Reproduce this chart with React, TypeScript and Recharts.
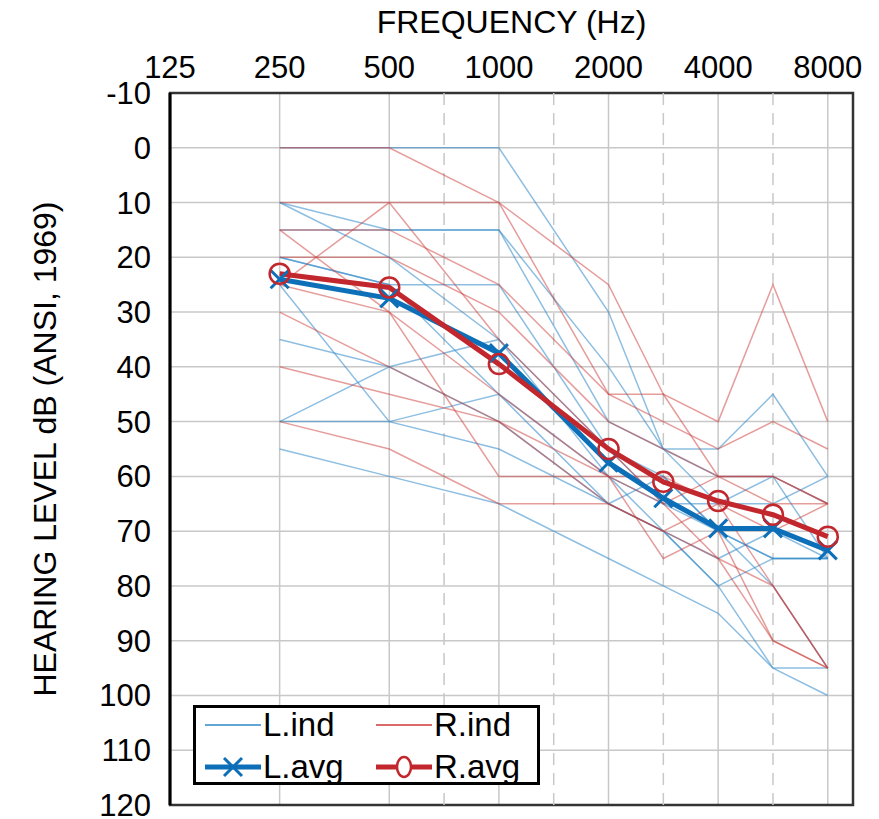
import {
  LineChart,
  Line,
  XAxis,
  YAxis,
  CartesianGrid,
  ReferenceLine,
  ReferenceArea,
  Legend,
  Label,
} from "recharts";

const FONT = '"Liberation Sans", Arial, sans-serif';

// frequencies measured for every ear
const freqs = [250, 500, 1000, 2000, 3000, 4000, 6000, 8000];
// labelled octave ticks along the top
const axisFreqs = [125, 250, 500, 1000, 2000, 4000, 8000];
// dashed half-octave guides
const halfOctaves = [750, 1500, 3000, 6000];
const dbTicks = [-10, 0, 10, 20, 30, 40, 50, 60, 70, 80, 90, 100, 110, 120];

// individual left ears (dB HL at each freq)
const leftInd = [
  [0, 0, 0, 30, 55, 60, 60, 65],
  [10, 15, 15, 40, 55, 55, 45, 60],
  [10, 20, 35, 55, 60, 70, 75, 75],
  [15, 15, 15, 50, 55, 65, 65, 60],
  [20, 25, 25, 55, 65, 70, 80, 95],
  [25, 50, 55, 65, 70, 80, 75, 75],
  [35, 40, 35, 60, 70, 75, 70, 75],
  [50, 50, 45, 60, 65, 65, 60, 75],
  [50, 40, 50, 65, 60, 70, 75, 75],
  [55, 60, 65, 75, 80, 85, 95, 100],
  [20, 25, 45, 65, 70, 80, 95, 95],
];

// individual right ears
const rightInd = [
  [0, 0, 10, 25, 45, 50, 25, 50],
  [10, 10, 10, 45, 50, 55, 50, 55],
  [15, 15, 25, 45, 45, 60, 60, 65],
  [20, 20, 30, 50, 55, 60, 65, 65],
  [25, 10, 35, 55, 65, 75, 90, 95],
  [25, 30, 45, 60, 60, 65, 80, 95],
  [30, 40, 50, 60, 75, 70, 90, 95],
  [40, 45, 50, 65, 70, 65, 70, 65],
  [50, 55, 65, 65, 70, 75, 80, 95],
  [15, 30, 60, 60, 65, 60, 60, 65],
];

const leftAvg = [24, 27.5, 37.5, 57.5, 64, 69.5, 69.5, 73.5];
const rightAvg = [23, 25.5, 39.5, 55, 61, 64.5, 67, 71];

const L_IND = "#2F88C8";
const R_IND = "#CC3B38";
const L_AVG = "#0C6FB8";
const R_AVG = "#C2272D";

// octaves sit on whole steps, the 1.5x freqs half way between
const pos = (f: number) => {
  const p = Math.log2(f / 125);
  return Math.abs(p - Math.round(p)) < 1e-6 ? Math.round(p) : Math.floor(p) + 0.5;
};

const toPoints = (vals: number[]) => freqs.map((f, i) => ({ x: pos(f), y: vals[i] }));

const Cross = (props: any) => {
  const { cx, cy, index } = props;
  if (cx == null || cy == null) return <g key={`c${index}`} />;
  const s = 9;
  return (
    <g key={`c${index}`}>
      <line x1={cx - s} y1={cy - s} x2={cx + s} y2={cy + s} stroke={L_AVG} strokeWidth={3} />
      <line x1={cx - s} y1={cy + s} x2={cx + s} y2={cy - s} stroke={L_AVG} strokeWidth={3} />
    </g>
  );
};

const legendItems = [
  { name: "L.ind", color: L_IND, width: 1.5, marker: "none" },
  { name: "R.ind", color: R_IND, width: 1.5, marker: "none" },
  { name: "L.avg", color: L_AVG, width: 5, marker: "cross" },
  { name: "R.avg", color: R_AVG, width: 5, marker: "circle" },
];

const LegendBox = () => (
  <div
    style={{
      width: 347,
      height: 80,
      boxSizing: "border-box",
      border: "3px solid #000",
      background: "#fff",
      display: "grid",
      gridTemplateColumns: "171px 165px",
      gridTemplateRows: "32px 32px",
      rowGap: 10,
      paddingLeft: 9,
      paddingTop: 1,
      fontFamily: FONT,
      color: "#000",
    }}
  >
    {legendItems.map((it) => (
      <div key={it.name} style={{ display: "flex", alignItems: "center", height: 32 }}>
        <svg width={56} height={30} style={{ marginRight: 2, flex: "none" }}>
          <line x1={0} y1={15} x2={56} y2={15} stroke={it.color} strokeWidth={it.width} />
          {it.marker === "cross" && (
            <g stroke={it.color} strokeWidth={3}>
              <line x1={19} y1={6} x2={37} y2={24} />
              <line x1={19} y1={24} x2={37} y2={6} />
            </g>
          )}
          {it.marker === "circle" && (
            <ellipse cx={28} cy={15} rx={7} ry={10} fill="#fff" stroke={it.color} strokeWidth={2.5} />
          )}
        </svg>
        <span style={{ fontSize: 33, lineHeight: "32px", whiteSpace: "nowrap" }}>{it.name}</span>
      </div>
    ))}
  </div>
);

export default function App() {
  return (
    <div style={{ margin: "-8px 0 0 -8px" }}>
      <LineChart
        width={870}
        height={819}
        margin={{ top: 8, right: 17, bottom: 14, left: 0 }}
        style={{ fontFamily: FONT }}
      >
        <CartesianGrid stroke="#c8c8c8" strokeWidth={1.5} />
        {halfOctaves.map((f) => (
          <ReferenceLine key={f} x={pos(f)} stroke="#c8c8c8" strokeWidth={1.5} strokeDasharray="12 8" />
        ))}
        <XAxis
          type="number"
          dataKey="x"
          orientation="top"
          domain={[0, 6.23]}
          ticks={axisFreqs.map(pos)}
          tickFormatter={(v: number) => String(axisFreqs[axisFreqs.map(pos).indexOf(v)] ?? "")}
          height={85}
          axisLine={false}
          tickLine={false}
          tickMargin={9}
          tick={{ fontSize: 31, fill: "#000" }}
          interval={0}
        >
          <Label value="FREQUENCY (Hz)" position="insideTop" offset={2} fontSize={32} fill="#000" />
        </XAxis>
        <YAxis
          type="number"
          dataKey="y"
          reversed
          domain={[-10, 120]}
          ticks={dbTicks}
          width={170}
          axisLine={{ stroke: "#000", strokeWidth: 3 }}
          tickLine={false}
          tickMargin={13}
          tick={{ fontSize: 31, fill: "#000" }}
          interval={0}
        >
          <Label
            content={() => (
              <text
                x={45}
                y={449}
                transform="rotate(-90 45 449)"
                textAnchor="middle"
                dominantBaseline="central"
                fontSize={32}
                fill="#000"
                fontFamily={FONT}
              >
                HEARING LEVEL dB (ANSI, 1969)
              </text>
            )}
          />
        </YAxis>
        <ReferenceArea x1={0} x2={6.23} y1={-10} y2={120} fill="none" stroke="#333" strokeWidth={2.5} />

        {leftInd.map((s, i) => (
          <Line
            key={`l${i}`}
            data={toPoints(s)}
            dataKey="y"
            type="linear"
            stroke={L_IND}
            strokeOpacity={0.55}
            strokeWidth={1.5}
            dot={false}
            activeDot={false}
            legendType="none"
            isAnimationActive={false}
          />
        ))}
        {rightInd.map((s, i) => (
          <Line
            key={`r${i}`}
            data={toPoints(s)}
            dataKey="y"
            type="linear"
            stroke={R_IND}
            strokeOpacity={0.5}
            strokeWidth={1.5}
            dot={false}
            activeDot={false}
            legendType="none"
            isAnimationActive={false}
          />
        ))}
        <Line
          name="L.avg"
          data={toPoints(leftAvg)}
          dataKey="y"
          type="linear"
          stroke={L_AVG}
          strokeWidth={5}
          dot={Cross}
          activeDot={false}
          isAnimationActive={false}
        />
        <Line
          name="R.avg"
          data={toPoints(rightAvg)}
          dataKey="y"
          type="linear"
          stroke={R_AVG}
          strokeWidth={5}
          dot={{ r: 10, fill: "none", stroke: R_AVG, strokeWidth: 2.5 }}
          activeDot={false}
          isAnimationActive={false}
        />

        {/* LEGEND */}
        <Legend
          layout="horizontal"
          verticalAlign="middle"
          align="center"
          content={() => <LegendBox />}
          wrapperStyle={{ left: 193, top: 705, width: 347, height: 80 }}
        />
      </LineChart>
    </div>
  );
}
